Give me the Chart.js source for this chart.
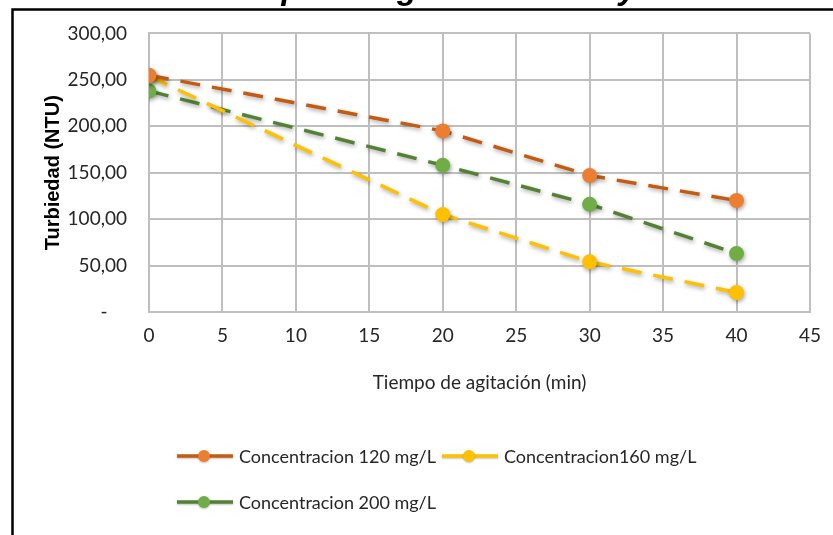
<!DOCTYPE html>
<html>
<head>
<meta charset="utf-8">
<script src="https://cdn.jsdelivr.net/npm/chart.js@4.4.1/dist/chart.umd.min.js"></script>
<style>
  html, body { margin: 0; padding: 0; background: #fff; }
  #wrap { width: 833px; height: 535px; position: relative; }
</style>
</head>
<body>
<div id="wrap"><canvas id="chart" width="833" height="535"></canvas></div>
<script>
// data
const tiempos = [0, 20, 30, 40];
const conc120 = [255, 195, 147, 120];
const conc160 = [254, 105, 54, 21];
const conc200 = [238, 158, 116, 63];
const seriesNames = ['Concentracion 120 mg/L', 'Concentracion160 mg/L', 'Concentracion 200 mg/L'];
const yTicks = [0, 50, 100, 150, 200, 250, 300];
const xTicks = [0, 5, 10, 15, 20, 25, 30, 35, 40, 45];

const FONT = "Lato, 'Liberation Sans', sans-serif";
const lineCols = ['#C55A11', '#FFC000', '#548235'];
const dotCols = ['#ED7D31', '#FFC000', '#70AD47'];

const toPoints = (vals) => tiempos.map((t, i) => ({ x: t, y: vals[i] }));

const makeSet = (name, vals, i) => ({
    label: name,
    data: toPoints(vals),
    borderColor: lineCols[i],
    backgroundColor: dotCols[i],
    pointBackgroundColor: dotCols[i],
    pointBorderColor: dotCols[i],
    pointBorderWidth: 0,
    pointRadius: 7.5,
    pointHoverRadius: 7.5,
    borderWidth: 3.5,
    borderDash: [20, 12],
    tension: 0
});

// shadow under the lines and markers, like the office chart
const shadowPlugin = {
    id: 'shadow',
    beforeDatasetsDraw(chart) {
        const c = chart.ctx;
        c.save();
        c.shadowColor = 'rgba(0,0,0,0.35)';
        c.shadowBlur = 4;
        c.shadowOffsetX = 1;
        c.shadowOffsetY = 2;
    },
    afterDatasetsDraw(chart) {
        chart.ctx.restore();
    }
};

// frame, cut-off title and legend
const decoPlugin = {
    id: 'deco',
    afterDraw(chart) {
        const c = chart.ctx;
        c.save();
        // title, only its lower part is in the picture
        c.fillStyle = '#000';
        c.font = "italic bold 33px 'Liberation Sans', sans-serif";
        c.textAlign = 'left';
        c.textBaseline = 'alphabetic';
        c.fillText('Tiempo de agitación lenta y turbiedad', 205, -1);

        // frame
        c.strokeStyle = '#000';
        c.lineWidth = 2.5;
        c.beginPath();
        c.moveTo(12.5, 540);
        c.lineTo(12.5, 9.5);
        c.lineTo(840, 9.5);
        c.stroke();

        // legend
        const rows = [[0, 1], [2]];
        const rowY = [456, 502];
        c.font = '18px ' + FONT;
        c.textBaseline = 'middle';
        rows.forEach((row, r) => {
            let x = 177;
            row.forEach(i => {
                const y = rowY[r];
                c.save();
                c.shadowColor = 'rgba(0,0,0,0.25)';
                c.shadowBlur = 2;
                c.shadowOffsetY = 1;
                c.strokeStyle = lineCols[i];
                c.lineWidth = 3.5;
                c.beginPath();
                c.moveTo(x, y);
                c.lineTo(x + 56, y);
                c.stroke();
                c.fillStyle = dotCols[i];
                c.beginPath();
                c.arc(x + 27, y, 6, 0, Math.PI * 2);
                c.fill();
                c.restore();
                c.fillStyle = '#262626';
                c.fillText(chart.data.datasets[i].label, x + 62, y + 1);
                x += 62 + c.measureText(chart.data.datasets[i].label).width + 6;
            });
        });
        c.restore();
    }
};

const ctx = document.getElementById('chart');
new Chart(ctx, {
    type: 'line',
    data: {
        datasets: [
            makeSet(seriesNames[0], conc120, 0),
            makeSet(seriesNames[1], conc160, 1),
            makeSet(seriesNames[2], conc200, 2)
        ]
    },
    options: {
        responsive: false,
        animation: false,
        events: [],
        layout: { padding: { left: 0, right: 23, top: 30, bottom: 133 } },
        plugins: {
            legend: { display: false },
            tooltip: { enabled: false }
        },
        scales: {
            x: {
                type: 'linear',
                min: 0,
                max: 45,
                afterBuildTicks: (s) => { s.ticks = xTicks.map(v => ({ value: v })); },
                afterFit: (s) => { s.height = 90; },
                grid: { color: '#BFBFBF', lineWidth: 2, drawTicks: false },
                border: { color: '#BFBFBF', width: 2 },
                ticks: {
                    padding: 12,
                    color: '#262626',
                    font: { family: FONT, size: 19 },
                    maxRotation: 0
                },
                title: {
                    display: true,
                    text: 'Tiempo de agitación (min)',
                    color: '#262626',
                    font: { family: FONT, size: 19 },
                    padding: { top: 0, bottom: 8 }
                }
            },
            y: {
                min: 0,
                max: 300,
                afterBuildTicks: (s) => { s.ticks = yTicks.map(v => ({ value: v })); },
                afterFit: (s) => { s.width = 149; },
                grid: { color: '#BFBFBF', lineWidth: 2, drawTicks: false },
                border: { color: '#BFBFBF', width: 2 },
                ticks: {
                    padding: 22,
                    color: '#262626',
                    font: { family: FONT, size: 19 },
                    callback: (v) => v === 0 ? '-    ' : v.toFixed(2).replace('.', ',')
                },
                title: {
                    display: true,
                    text: 'Turbiedad (NTU)',
                    color: '#000',
                    font: { family: "'Liberation Sans', sans-serif", size: 20, weight: 'bold' },
                    padding: { top: 41, bottom: 0 }
                }
            }
        }
    },
    plugins: [shadowPlugin, decoPlugin]
});
</script>
</body>
</html>
